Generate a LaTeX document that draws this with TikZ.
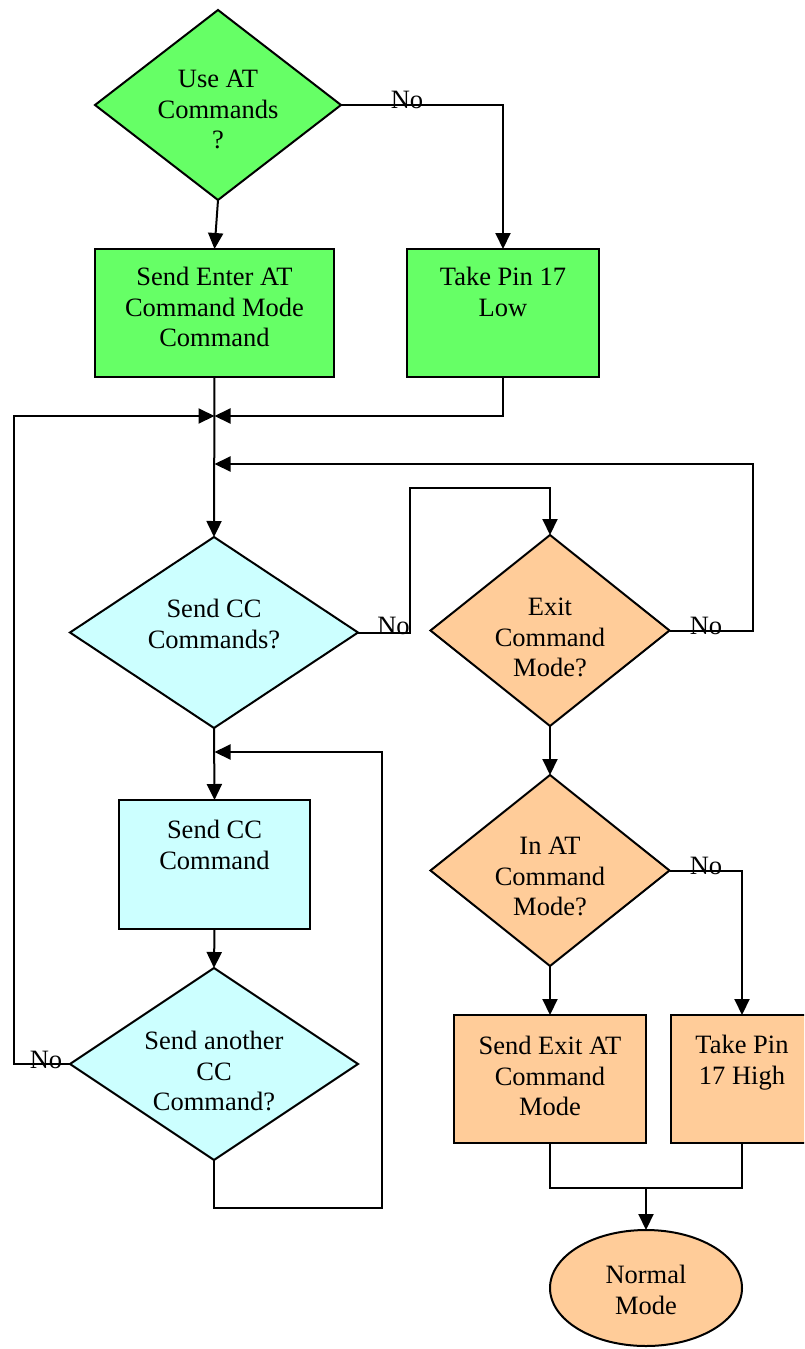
\documentclass[tikz,border=0pt]{standalone}
\usepackage{fontspec}
\setmainfont{Liberation Serif}
\usetikzlibrary{shapes.geometric,arrows.meta}
\definecolor{cgreen}{HTML}{66FF66}
\definecolor{ccyan}{HTML}{CCFFFF}
\definecolor{corange}{HTML}{FFCC99}
\begin{document}
\begin{tikzpicture}[x=1pt,y=-1pt,
  every node/.style={inner sep=0pt, outer sep=0pt},
  shp/.style={draw=black, line width=2pt},
  dia/.style={shp, diamond},
  boxn/.style={shp, rectangle},
  ell/.style={shp, ellipse},
  lbl/.style={font=\fontsize{26.5}{30.5}\selectfont, align=center, anchor=north, execute at begin node=\strut},
  nolbl/.style={font=\fontsize{26.5}{30.5}\selectfont, anchor=base},
  conn/.style={line width=2pt},
  arr/.style={conn, -{Triangle[length=16pt,width=15pt]}}]
\clip (0,0) rectangle (804,1349);
\fill[white] (0,0) rectangle (804,1349);
% shapes
\node[dia, fill=cgreen, minimum width=246pt, minimum height=190pt] (d1) at (218,105) {};
\node[boxn, fill=cgreen, minimum width=239pt, minimum height=128pt] (b1) at (214.5,313) {};
\node[boxn, fill=cgreen, minimum width=192pt, minimum height=128pt] (b2) at (503,313) {};
\node[dia, fill=ccyan, minimum width=288pt, minimum height=191pt] (d2) at (214,632.5) {};
\node[dia, fill=corange, minimum width=239pt, minimum height=191pt] (d3) at (550,630.5) {};
\node[dia, fill=corange, minimum width=239pt, minimum height=191pt] (d4) at (550,870.5) {};
\node[boxn, fill=ccyan, minimum width=191pt, minimum height=129pt] (b3) at (214.5,864.5) {};
\node[dia, fill=ccyan, minimum width=288pt, minimum height=192pt] (d5) at (214,1064) {};
\node[boxn, fill=corange, minimum width=192pt, minimum height=128pt] (b5) at (550,1079) {};
\node[boxn, fill=corange, minimum width=142pt, minimum height=128pt] (b6) at (742,1079) {};
\node[ell, fill=corange, minimum width=192pt, minimum height=116pt] (e) at (646,1288) {};
% texts
\node[lbl] (t1) at (218,70.2) {Use AT\\Commands\\?};
\node[lbl] (t2) at (214.5,267.2) {Send Enter AT\\Command Mode\\Command};
\node[lbl] (t3) at (503,267.2) {Take Pin 17\\Low};
\node[lbl] (t4) at (214,599.2) {Send CC\\Commands?};
\node[lbl] (t5) at (550,598.2) {Exit\\Command\\Mode?};
\node[lbl] (t6) at (550,837.2) {In AT\\Command\\Mode?};
\node[lbl] (t7) at (214.5,820.2) {Send CC\\Command};
\node[lbl] (t8) at (214,1031.2) {Send another\\CC\\Command?};
\node[lbl] (t9) at (550,1036.2) {Send Exit AT\\Command\\Mode};
\node[lbl] (t10) at (742,1035.2) {Take Pin\\17 High};
\node[lbl] (t11) at (646,1265.2) {Normal\\Mode};
% junctions and bends
\coordinate (j1) at (214.5,416);
\coordinate (j2) at (214.5,464);
\coordinate (j3) at (214.5,752);
\coordinate (c5) at (14,1064);
\coordinate (c6) at (753,630.5);
\coordinate (c7a) at (410,632.5);
\coordinate (c7b) at (410,488);
\coordinate (c11) at (550,1188);
\coordinate (m) at (646,1188);
\coordinate (c13a) at (214,1208);
\coordinate (c13b) at (382,1208);
\coordinate (c13c) at (382,752);
% connectors
\draw[arr] (d1.south) -- (b1.north);
\draw[arr] (d1.east) -| (b2.north);
\draw[arr] (b1.south) -- (d2.north);
\draw[arr] (b2.south) |- (j1);
\draw[arr] (d5.west) -- (c5) |- (j1);
\draw[arr] (d3.east) -- (c6) |- (j2);
\draw[arr] (d2.east) -- (c7a) -- (c7b) -| (d3.north);
\draw[arr] (d3.south) -- (d4.north);
\draw[arr] (d4.east) -| (b6.north);
\draw[arr] (d4.south) -- (b5.north);
\draw[conn] (b5.south) -- (c11) -| (b6.south);
\draw[arr] (m) -- (e.north);
\draw[arr] (d2.south) -- (b3.north);
\draw[arr] (b3.south) -- (d5.north);
\draw[arr] (d5.south) -- (c13a) -- (c13b) -- (c13c) -- (j3);
% labels
\node[nolbl] (n1) at (407,108) {No};
\node[nolbl] (n2) at (393.5,634) {No};
\node[nolbl] (n3) at (706,634) {No};
\node[nolbl] (n4) at (706,874) {No};
\node[nolbl] (n5) at (46,1068) {No};
\end{tikzpicture}
\end{document}
